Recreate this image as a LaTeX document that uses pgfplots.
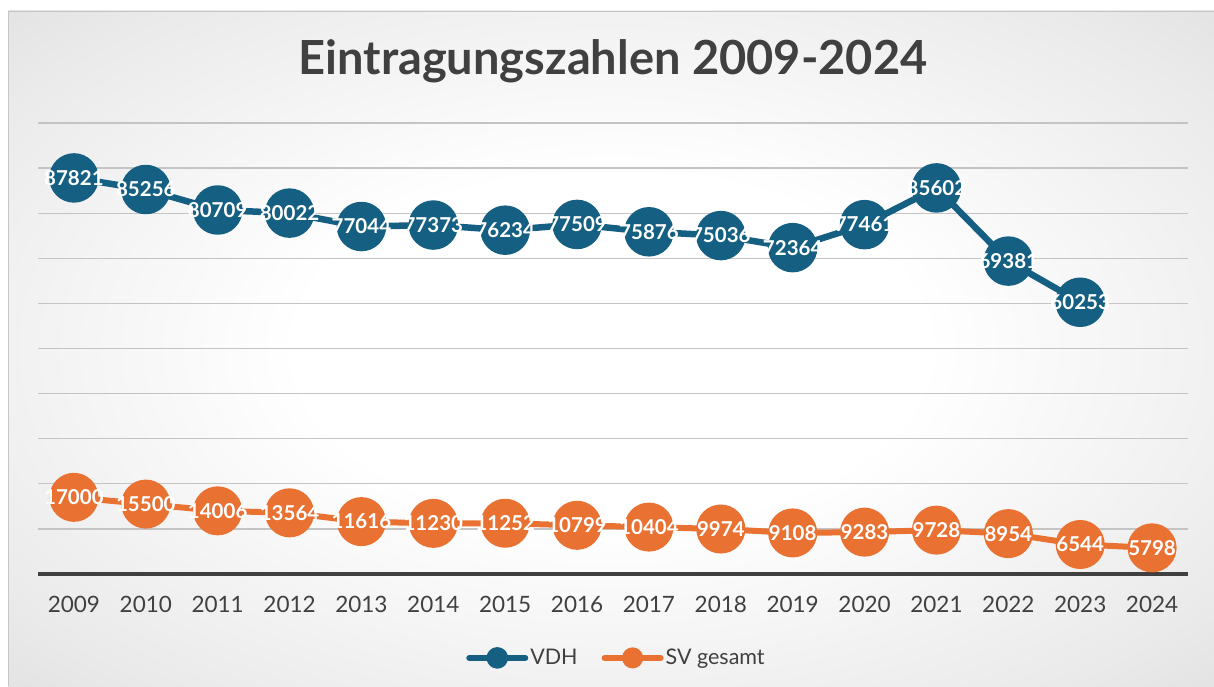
\documentclass[border=0pt]{standalone}
\usepackage{fontspec}
\setmainfont{Lato}
\usepackage{pgfplots}
\pgfplotsset{compat=1.18}
\usepackage{pgfplotstable}
\definecolor{vdh}{HTML}{156082}
\definecolor{sv}{HTML}{E97132}
\definecolor{titlegray}{HTML}{404040}
\definecolor{tickgray}{HTML}{404040}
\definecolor{gridgray}{HTML}{C4C4C4}
\definecolor{axisgray}{HTML}{404040}
\definecolor{bgmid}{HTML}{EAEAEA}
\definecolor{bgedge}{HTML}{CDCDCD}
\definecolor{bgcorner}{HTML}{BEBEBE}
\pgfdeclareradialshading{bgshade}{\pgfpoint{0bp}{0bp}}{color(0bp)=(white); color(13bp)=(white); color(31bp)=(bgmid); color(50bp)=(bgedge); color(72bp)=(bgcorner)}

\pgfplotstableread{
x y lab
0 87821 87821
1 85256 85256
2 80709 80709
3 80022 80022
4 77044 77044
5 77373 77373
6 76234 76234
7 77509 77509
8 75876 75876
9 75036 75036
10 72364 72364
11 77461 77461
12 85602 85602
13 69381 69381
14 60253 60253
}\vdhdata
\pgfplotstableread{
x y lab
0 17000 17000
1 15500 15500
2 14006 14006
3 13564 13564
4 11616 11616
5 11230 11230
6 11252 11252
7 10799 10799
8 10404 10404
9 9974 9974
10 9108 9108
11 9283 9283
12 9728 9728
13 8954 8954
14 6544 6544
15 5798 5798
}\svdata

\begin{document}
\begin{tikzpicture}[x=1pt,y=1pt]
\path[use as bounding box] (0,0) rectangle (1214,686);
\shade[shading=bgshade] (8,0) rectangle (1214,675);
\draw[color=gray!45, line width=1pt] (8.5,0) -- (8.5,674.5) -- (1214,674.5);
\node[anchor=base, text=titlegray, font=\fontsize{47}{47}\selectfont\bfseries] at (613,611) {Eintragungszahlen 2009-2024};
\begin{axis}[
  at={(38pt,112pt)}, anchor=south west,
  scale only axis, width=1150pt, height=451pt,
  xmin=-0.5, xmax=15.5, ymin=0, ymax=100000,
  scaled y ticks=false,
  clip=false,
  axis line style={draw=none},
  xtick={0,...,15},
  xticklabels={2009,2010,2011,2012,2013,2014,2015,2016,2017,2018,2019,2020,2021,2022,2023,2024},
  xticklabel style={font=\fontsize{22.5}{22.5}\selectfont, text=tickgray, anchor=base, yshift=-38pt},
  xtick style={draw=none},
  ytick={10000,20000,...,100000},
  yticklabels={},
  ytick style={draw=none},
  ymajorgrids,
  grid style={gridgray, line width=1.3pt},
  legend style={at={(0.503,-0.186)}, anchor=center, draw=none, fill=none,
    legend columns=2, font=\fontsize{21.5}{21.5}\selectfont, text=titlegray,
    /tikz/every even column/.append style={column sep=22pt}},
  nodes near coords style={font=\fontsize{20.5}{20.5}\selectfont\bfseries, text=white, anchor=center},
]
\addplot[vdh, line width=6.5pt, line join=round, mark=*, mark size=21.5pt,
  mark options={draw=none, fill=vdh},
  nodes near coords, point meta=explicit symbolic,
  legend image code/.code={\draw[vdh, line width=6pt, line cap=round] (0pt,0pt) -- (56pt,0pt); \fill[vdh] (28pt,0pt) circle (7.5pt);}]
  table[x=x, y=y, meta=lab] {\vdhdata};
\addlegendentry{VDH}
\addplot[sv, line width=6pt, line join=round, mark=*, mark size=21.5pt,
  mark options={draw=none, fill=sv},
  nodes near coords, point meta=explicit symbolic,
  legend image code/.code={\draw[sv, line width=6pt, line cap=round] (0pt,0pt) -- (56pt,0pt); \fill[sv] (28pt,0pt) circle (7.5pt);}]
  table[x=x, y=y, meta=lab] {\svdata};
\addlegendentry{SV gesamt}
\draw[axisgray, line width=3.5pt] (axis cs:-0.5,0) -- (axis cs:15.5,0);
\end{axis}
\end{tikzpicture}
\end{document}
